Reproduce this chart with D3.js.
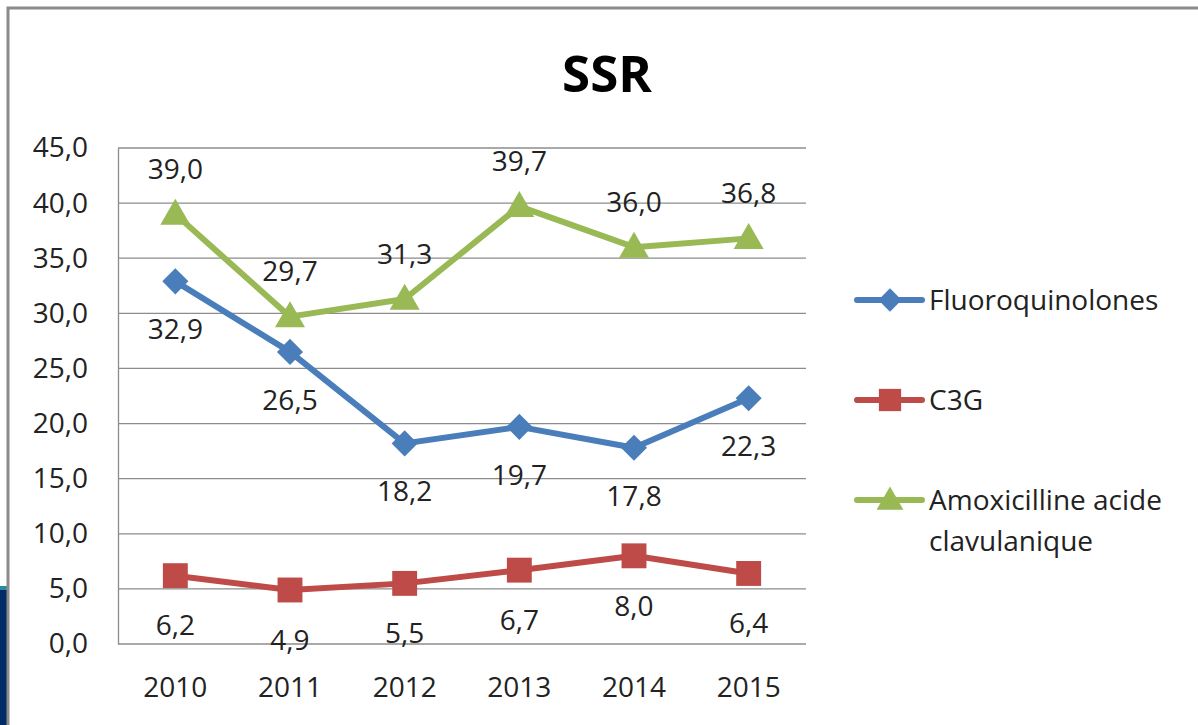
<!DOCTYPE html>
<html>
<head>
<meta charset="utf-8">
<title>SSR</title>
<style>
	body { margin: 0; background: #fff; }
	svg { display: block; font-family: "Open Sans", sans-serif; }
</style>
</head>
<body>
<svg width="1198" height="725"></svg>
<script src="https://cdn.jsdelivr.net/npm/d3@7"></script>
<script>
	// data
	const years = ["2010", "2011", "2012", "2013", "2014", "2015"]
	const fluoro = [32.9, 26.5, 18.2, 19.7, 17.8, 22.3]
	const c3g = [6.2, 4.9, 5.5, 6.7, 8.0, 6.4]
	const amox = [39.0, 29.7, 31.3, 39.7, 36.0, 36.8]
	const yTicks = [0, 5, 10, 15, 20, 25, 30, 35, 40, 45]

	const series = [
		{ name: ["Fluoroquinolones"], values: fluoro, color: "#4a7ebb", shape: d3.symbolSquare, size: 340, rot: 45, labelDy: 48 },
		{ name: ["C3G"], values: c3g, color: "#be4b48", shape: d3.symbolSquare, size: 620, rot: 0, labelDy: 50 },
		{ name: ["Amoxicilline acide", "clavulanique"], values: amox, color: "#98b954", shape: d3.symbolTriangle, size: 390, rot: 0, labelDy: -45 }
	]

	const fmt = v => v.toFixed(1).replace(".", ",")
	const FS = 28

	const svg = d3.select("svg")

	// slide background bit at bottom-left
	svg.append("rect").attr("x", 0).attr("y", 588).attr("width", 7).attr("height", 137).attr("fill", "#002b66")
	svg.append("rect").attr("x", 0).attr("y", 586).attr("width", 7).attr("height", 4).attr("fill", "#2a8a9a")

	// chart frame
	svg.append("path")
		.attr("d", "M8,725 V8 H1198")
		.attr("fill", "none").attr("stroke", "#8a8a8a").attr("stroke-width", 3)

	// title
	svg.append("text")
		.attr("x", 607).attr("y", 92)
		.attr("text-anchor", "middle")
		.attr("font-weight", "bold").attr("font-size", 51)
		.attr("fill", "#000")
		.text("SSR")

	const x = d3.scaleBand().domain(years).range([118, 806])
	const y = d3.scaleLinear().domain([0, 45]).range([644, 148])
	const cx = d => x(d) + x.bandwidth() / 2

	// gridlines
	svg.append("g").selectAll("line").data(yTicks).enter().append("line")
		.attr("x1", 118).attr("x2", 806)
		.attr("y1", d => y(d)).attr("y2", d => y(d))
		.attr("stroke", "#8c8c8c").attr("stroke-width", 1.3)

	// y axis
	const yAxis = svg.append("g").attr("transform", "translate(118,0)")
		.call(d3.axisLeft(y).tickValues(yTicks).tickFormat(fmt).tickSize(0).tickPadding(30))
	yAxis.select(".domain").attr("stroke", "#8c8c8c").attr("stroke-width", 1.3)
	yAxis.selectAll("text").attr("font-size", FS).attr("fill", "#222").attr("font-family", "Open Sans")

	// x axis
	const xAxis = svg.append("g").attr("transform", "translate(0,644)")
		.call(d3.axisBottom(x).tickSize(0).tickPadding(33))
	xAxis.select(".domain").remove()
	xAxis.selectAll("text").attr("font-size", FS).attr("fill", "#222").attr("font-family", "Open Sans")

	// lines, markers, labels
	const line = d3.line().x((d, i) => cx(years[i])).y(d => y(d))
	series.forEach(s => {
		const g = svg.append("g")
		g.append("path").datum(s.values)
			.attr("d", line)
			.attr("fill", "none").attr("stroke", s.color)
			.attr("stroke-width", 6).attr("stroke-linejoin", "round")
		g.selectAll("path.m").data(s.values).enter().append("path")
			.attr("class", "m")
			.attr("d", d3.symbol().type(s.shape).size(s.size))
			.attr("transform", (d, i) => `translate(${cx(years[i])},${y(d) + (s.shape === d3.symbolTriangle ? 2 : 0)}) rotate(${s.rot})`)
			.attr("fill", s.color)
		g.selectAll("text").data(s.values).enter().append("text")
			.attr("x", (d, i) => cx(years[i]))
			.attr("y", d => y(d) + s.labelDy)
			.attr("dy", "0.35em")
			.attr("text-anchor", "middle")
			.attr("font-size", FS).attr("fill", "#222")
			.text(fmt)
	})

	// legend
	const legendY = [300, 400, 500]
	series.forEach((s, i) => {
		const lg = svg.append("g").attr("transform", `translate(0,${legendY[i]})`)
		lg.append("line").attr("x1", 857).attr("x2", 922)
			.attr("stroke", s.color).attr("stroke-width", 6).attr("stroke-linecap", "round")
		lg.append("path")
			.attr("d", d3.symbol().type(s.shape).size(s.size * 0.8))
			.attr("transform", `translate(890,${s.shape === d3.symbolTriangle ? 2 : 0}) rotate(${s.rot})`)
			.attr("fill", s.color)
		s.name.forEach((t, k) => {
			lg.append("text").attr("x", 929).attr("y", k * 41)
				.attr("dy", "0.35em")
				.attr("font-size", FS).attr("fill", "#222")
				.text(t)
		})
	})
</script>
</body>
</html>
